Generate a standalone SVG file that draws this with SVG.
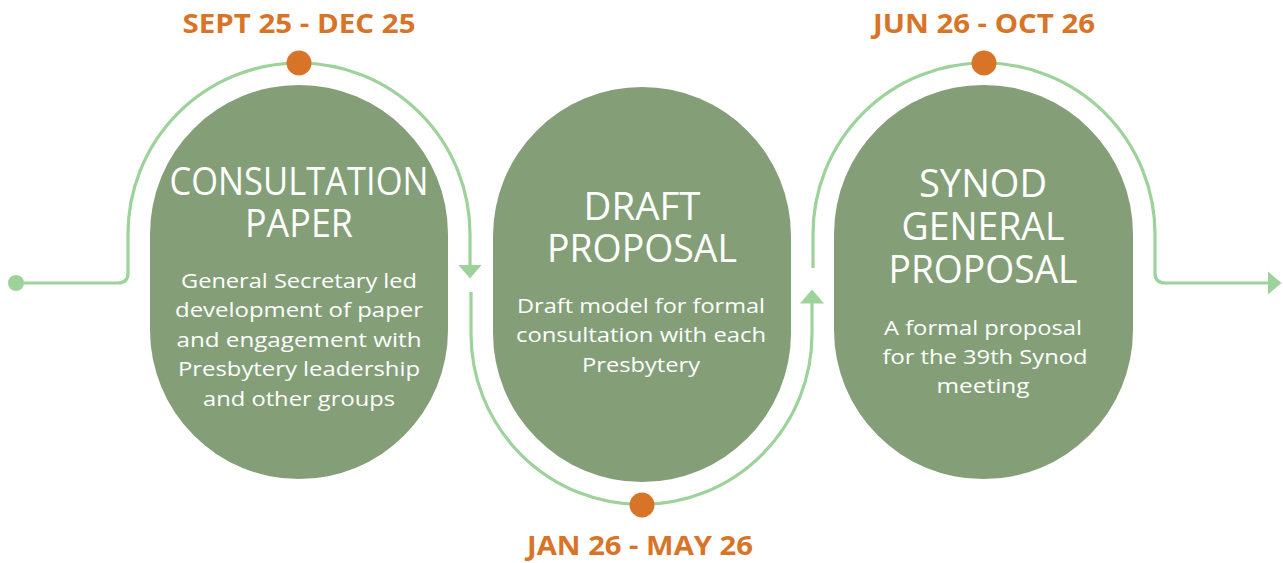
<svg xmlns="http://www.w3.org/2000/svg" width="1283" height="563" viewBox="0 0 1283 563">
<style>
.node{fill:#849F78}
.line{fill:none;stroke:#9DD29B;stroke-width:3.2}
.dot{fill:#D87428}
.date{font-family:"Open Sans","Liberation Sans",sans-serif;font-weight:bold;font-size:27px;fill:#D87428;text-anchor:middle}
.title{font-family:"Open Sans","Liberation Sans",sans-serif;font-size:38px;fill:#FFFFFF;text-anchor:middle}
.body{font-family:"Open Sans","Liberation Sans",sans-serif;font-size:20px;fill:#FFFFFF;text-anchor:middle}
</style>
<defs>
<marker id="arr" markerUnits="userSpaceOnUse" markerWidth="14" markerHeight="24" refX="0.5" refY="12" orient="auto">
<path d="M0,0 L14,12 L0,24 Z" fill="#9DD29B"/>
</marker>
</defs>
<rect width="1283" height="563" fill="#FFFFFF"/>
<g id="connectors">
<circle cx="16" cy="283" r="8" fill="#9DD29B"/>
<path class="line" d="M16,283 H118 Q128,283 128,273 V234 A171,171 0 0 1 470,234 V265" marker-end="url(#arr)"/>
<path class="line" d="M471,292 V334 A170.5,170.5 0 0 0 812,334 V303" marker-end="url(#arr)"/>
<path class="line" d="M813,268 V234 A171,171 0 0 1 1155,234 V273 Q1155,283 1165,283 H1268" marker-end="url(#arr)"/>
<circle class="dot" cx="299" cy="63" r="12.5"/>
<circle class="dot" cx="642" cy="505" r="12.5"/>
<circle class="dot" cx="984" cy="63" r="12.5"/>
</g>
<g id="node-consultation">
<rect class="node" x="150" y="85" width="298" height="394" rx="149" ry="149"/>
<text class="date" x="299" y="33" textLength="233" lengthAdjust="spacingAndGlyphs">SEPT 25 - DEC 25</text>
<text class="title" x="299" y="195" textLength="259" lengthAdjust="spacingAndGlyphs">CONSULTATION</text>
<text class="title" x="299" y="237" textLength="108" lengthAdjust="spacingAndGlyphs">PAPER</text>
<text class="body" x="299" y="288" textLength="236" lengthAdjust="spacingAndGlyphs">General Secretary led</text>
<text class="body" x="299" y="317" textLength="248" lengthAdjust="spacingAndGlyphs">development of paper</text>
<text class="body" x="299" y="347" textLength="245" lengthAdjust="spacingAndGlyphs">and engagement with</text>
<text class="body" x="299" y="376" textLength="242" lengthAdjust="spacingAndGlyphs">Presbytery leadership</text>
<text class="body" x="299" y="406" textLength="192" lengthAdjust="spacingAndGlyphs">and other groups</text>
</g>
<g id="node-draft">
<rect class="node" x="493" y="87" width="298" height="395" rx="149" ry="149"/>
<text class="title" x="642" y="220" textLength="117" lengthAdjust="spacingAndGlyphs">DRAFT</text>
<text class="title" x="642" y="262" textLength="190" lengthAdjust="spacingAndGlyphs">PROPOSAL</text>
<text class="body" x="641" y="313" textLength="248" lengthAdjust="spacingAndGlyphs">Draft model for formal</text>
<text class="body" x="641" y="342" textLength="250" lengthAdjust="spacingAndGlyphs">consultation with each</text>
<text class="body" x="641" y="372" textLength="118" lengthAdjust="spacingAndGlyphs">Presbytery</text>
<text class="date" x="640" y="555" textLength="226" lengthAdjust="spacingAndGlyphs">JAN 26 - MAY 26</text>
</g>
<g id="node-synod">
<rect class="node" x="834" y="85" width="299" height="394" rx="149" ry="149"/>
<text class="date" x="984" y="33" textLength="222" lengthAdjust="spacingAndGlyphs">JUN 26 - OCT 26</text>
<text class="title" x="983" y="197" textLength="128" lengthAdjust="spacingAndGlyphs">SYNOD</text>
<text class="title" x="983" y="240" textLength="163" lengthAdjust="spacingAndGlyphs">GENERAL</text>
<text class="title" x="983" y="283" textLength="189" lengthAdjust="spacingAndGlyphs">PROPOSAL</text>
<text class="body" x="983" y="335" textLength="198" lengthAdjust="spacingAndGlyphs">A formal proposal</text>
<text class="body" x="985" y="364" textLength="205" lengthAdjust="spacingAndGlyphs">for the 39th Synod</text>
<text class="body" x="983" y="393" textLength="93" lengthAdjust="spacingAndGlyphs">meeting</text>
</g>
</svg>
